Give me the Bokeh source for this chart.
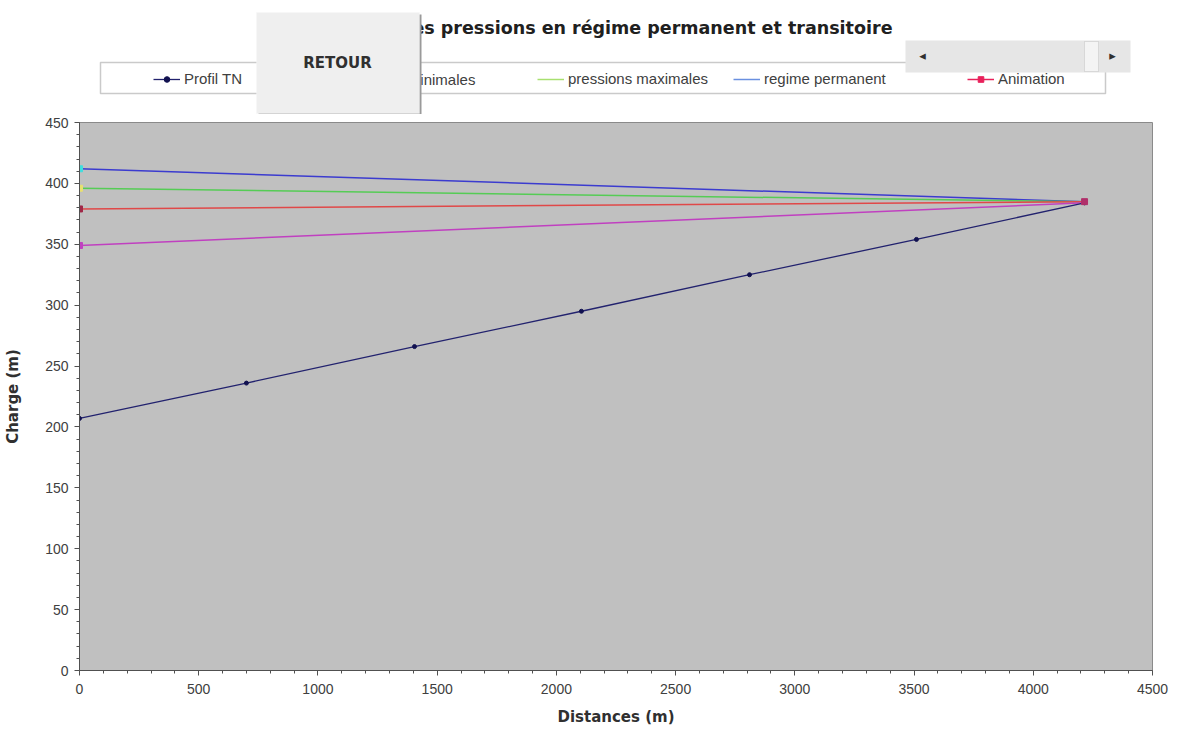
from bokeh.plotting import figure
from bokeh.layouts import column
from bokeh.models import Range1d, Legend, LegendItem, Label, BoxAnnotation, FixedTicker
from bokeh.core.properties import value
from bokeh.embed import file_html
from bokeh.resources import INLINE

# ---- data ----
x_tn = [0, 700, 1405, 2105, 2810, 3510, 4215]
y_tn = [207, 236, 266, 295, 325, 354, 384]
x_env = [0, 4215]
y_permanent = [412, 385]
y_max = [396, 385]
y_anim = [379, 385]
y_min = [349, 384]

x_ticks = [0, 500, 1000, 1500, 2000, 2500, 3000, 3500, 4000, 4500]
y_ticks = [0, 50, 100, 150, 200, 250, 300, 350, 400, 450]

title_text = "Evolution des pressions en régime permanent et transitoire"
legend_labels = ["Profil TN", "pressions minimales", "pressions maximales", "regime permanent", "Animation"]

W, H = 1180, 736
TOP_H = 114
FL, FR, FT, FB = 79, 1152, 122, 670

# ---------------- header figure (title, legend, overlays) ----------------
# its frame is aligned with the main chart's frame (x 79..1152), so map that span to pixel coordinates
h = figure(width=W, height=TOP_H, output_backend="svg", toolbar_location=None,
           x_range=Range1d(FL, FR), y_range=Range1d(TOP_H, 0),
           x_axis_type=None, y_axis_type=None,
           min_border_left=FL, min_border_right=W - FR, min_border_top=0, min_border_bottom=0,
           background_fill_color="white", border_fill_color="white")
h.outline_line_color = None
h.grid.visible = False

# title
h.add_layout(Label(x=892, y=27, text=title_text,
                   text_align="right", text_baseline="middle", text_font="DejaVu Sans",
                   text_font_size="17.5px", text_font_style="bold", text_color="#202020",
                   level="underlay"))

# legend frame
h.add_layout(BoxAnnotation(left=100, right=1105, bottom=93, top=62, level="underlay",
                           fill_color="white", fill_alpha=1, line_color="#505050", line_width=1.5))

# legend sample renderers (hidden, only used for legend glyphs)
s_tn_l = h.line([0], [0], line_color="#22226e", line_width=1.3, visible=False)
s_tn_m = h.scatter([0], [0], size=4, color="#111150", visible=False)
s_max = h.line([0], [0], line_color="#a8e070", line_width=1.5, visible=False)
s_perm = h.line([0], [0], line_color="#6a90e0", line_width=1.5, visible=False)
s_an_l = h.line([0], [0], line_color="#e8205a", line_width=1.5, visible=False)
s_an_m = h.scatter([0], [0], size=5, marker="square", color="#e8205a", visible=False)

# the "pressions minimales" entry sits behind the RETOUR button, so it is drawn as glyphs
# (glyph level) which the overlay button can cover
MIN_X = 308
h.segment(x0=[MIN_X], y0=[79], x1=[MIN_X + 27], y1=[79], line_color="#c040c0", line_width=1.5)
h.text(x=[MIN_X + 31], y=[79], text=[legend_labels[1]], text_baseline="middle", text_align="left",
       text_font=value("Liberation Sans"), text_font_size="15px", text_color="#404040")

legend_items = [
    ([s_tn_l, s_tn_m], 153, legend_labels[0]),
    ([s_max], 537, legend_labels[2]),
    ([s_perm], 733, legend_labels[3]),
    ([s_an_l, s_an_m], 967, legend_labels[4]),
]
for rs, cx, lab in legend_items:
    lg = Legend(items=[LegendItem(label=lab, renderers=rs)], location=(cx - FL, TOP_H - 87),
                orientation="horizontal", padding=0, margin=0, glyph_width=27, glyph_height=14,
                label_standoff=4, border_line_alpha=0, background_fill_alpha=0,
                label_text_font="Liberation Sans", label_text_font_size="15px", label_text_color="#404040",
                label_height=14)
    h.add_layout(lg)

# RETOUR button overlay
h.add_layout(BoxAnnotation(left=258, right=421, top=14, bottom=115, level="overlay",
                           fill_color="#9a9a9a", fill_alpha=1, line_alpha=0))
h.add_layout(BoxAnnotation(left=256, right=419, top=12, bottom=113, level="overlay",
                           fill_color="#efefef", fill_alpha=1, line_color="#f8f8f8", line_width=1))
h.add_layout(Label(x=337, y=62, text="RETOUR", level="overlay",
                   text_align="center", text_baseline="middle", text_font="DejaVu Sans",
                   text_font_size="15px", text_font_style="bold", text_color="#303030"))

# scrollbar overlay
h.add_layout(BoxAnnotation(left=905, right=1130, top=40, bottom=72, level="overlay",
                           fill_color="#e6e6e6", fill_alpha=1, line_alpha=0))
h.add_layout(BoxAnnotation(left=1084, right=1098, top=41, bottom=71, level="overlay",
                           fill_color="#f4f4f4", fill_alpha=1, line_color="#a8a8a8", line_width=1))
h.add_layout(Label(x=922, y=55, text="◂", level="overlay",
                   text_align="center", text_baseline="middle", text_font="DejaVu Sans",
                   text_font_size="13px", text_color="#303030"))
h.add_layout(Label(x=1112, y=55, text="▸", level="overlay",
                   text_align="center", text_baseline="middle", text_font="DejaVu Sans",
                   text_font_size="13px", text_color="#303030"))

# ---------------- main chart ----------------
MH = H - TOP_H
p = figure(width=W, height=MH, output_backend="svg", toolbar_location=None,
           x_range=Range1d(0, 4500), y_range=Range1d(0, 450),
           min_border_left=FL, min_border_right=W - FR, min_border_top=FT - TOP_H, min_border_bottom=H - FB,
           background_fill_color="#c0c0c0", border_fill_color="white")
p.outline_line_color = "#8a8a8a"
p.grid.visible = False

p.xaxis.ticker = FixedTicker(ticks=x_ticks, minor_ticks=list(range(0, 4501, 100)))
p.yaxis.ticker = FixedTicker(ticks=y_ticks, minor_ticks=list(range(0, 451, 10)))

for ax in (p.xaxis, p.yaxis):
    ax.axis_line_color = "#505050"
    ax.major_tick_line_color = "#505050"
    ax.minor_tick_line_color = "#505050"
    ax.major_tick_out = 5
    ax.major_tick_in = 0
    ax.minor_tick_out = 3
    ax.minor_tick_in = 0
    ax.major_label_text_font = "Liberation Sans"
    ax.major_label_text_font_size = "14px"
    ax.major_label_text_color = "#404040"
    ax.axis_label_text_font = "DejaVu Sans"
    ax.axis_label_text_font_size = "15px"
    ax.axis_label_text_font_style = "bold"
    ax.axis_label_text_color = "#303030"

p.xaxis.axis_label = "Distances (m)"
p.yaxis.axis_label = "Charge (m)"
p.xaxis.axis_label_standoff = 11
p.yaxis.axis_label_standoff = 20
p.xaxis.major_label_standoff = 8
p.yaxis.major_label_standoff = 6

r_perm = p.line(x_env, y_permanent, line_color="#3b3bcf", line_width=1.5)
r_max = p.line(x_env, y_max, line_color="#55cc55", line_width=1.5)
r_anim = p.line(x_env, y_anim, line_color="#e04848", line_width=1.5)
r_min = p.line(x_env, y_min, line_color="#c040c0", line_width=1.5)
r_tn = p.line(x_tn, y_tn, line_color="#22226e", line_width=1.3)
r_tn_pts = p.scatter(x_tn, y_tn, size=4, color="#111150")

# start / end markers
p.scatter([x_env[0]], [y_permanent[0]], marker="square", size=6, color="#40dede")
p.scatter([x_env[0]], [y_max[0]], marker="square", size=6, color="#e8e070")
p.scatter([x_env[0]], [y_anim[0]], marker="square", size=6, color="#a02848")
p.scatter([x_env[0]], [y_min[0]], marker="square", size=6, color="#c040c0")
p.scatter([x_env[-1]], [y_anim[-1]], marker="square", size=6, color="#b0306a")

layout = column(h, p, spacing=0)
open("out.html", "w").write(file_html(layout, INLINE))
